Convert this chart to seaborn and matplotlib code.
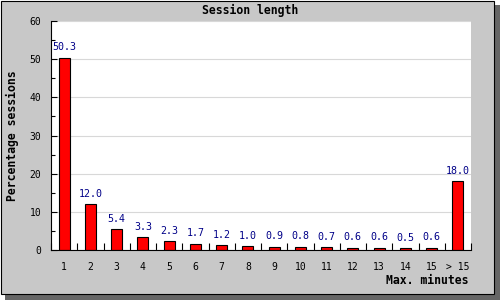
import matplotlib
matplotlib.use("Agg")
import matplotlib.pyplot as plt
from matplotlib.patches import Rectangle
from matplotlib.ticker import MultipleLocator, FixedLocator
import seaborn as sns
import pandas as pd

categories = ["1", "2", "3", "4", "5", "6", "7", "8", "9", "10",
              "11", "12", "13", "14", "15", "> 15"]
values = [50.3, 12.0, 5.4, 3.3, 2.3, 1.7, 1.2, 1.0, 0.9, 0.8,
          0.7, 0.6, 0.6, 0.5, 0.6, 18.0]
title = "Session length"
xlabel = "Max. minutes"
ylabel = "Percentage sessions"

sns.set_theme(style="white")
plt.rcParams["font.family"] = ["DejaVu Sans Mono", "DejaVu Sans"]

df = pd.DataFrame({"cat": categories, "val": values})

W, H = 500, 300
fig = plt.figure(figsize=(5, 3), dpi=100, facecolor="white")

# background panel, border and shadow
fig.patches.append(Rectangle((495 / W, 0), 5 / W, 295 / H, transform=fig.transFigure,
                             facecolor="#666666", edgecolor="none", zorder=-10))
fig.patches.append(Rectangle((5 / W, 0), 495 / W, 6 / H, transform=fig.transFigure,
                             facecolor="#666666", edgecolor="none", zorder=-10))
fig.patches.append(Rectangle((0.5 / W, 6.5 / H), 493.5 / W, 293 / H, transform=fig.transFigure,
                             facecolor="#c8c8c8", edgecolor="black", linewidth=0.8, zorder=-9))

ax = fig.add_axes([51 / W, 1 - 250 / H, 420 / W, 229 / H])
ax.set_facecolor("white")

sns.barplot(data=df, x="cat", y="val", color="red", saturation=1,
            edgecolor="black", linewidth=0.8, width=0.42, ax=ax)

ax.set_xlim(-0.5, len(categories) - 0.5)
ax.set_ylim(0, 60)

for c in ax.containers:
    ax.bar_label(c, fmt="%.1f", padding=4, color="#000088", fontsize=7.2)

ax.yaxis.set_major_locator(MultipleLocator(10))
ax.yaxis.set_minor_locator(MultipleLocator(5))
ax.xaxis.set_minor_locator(FixedLocator([i - 0.5 for i in range(len(categories) + 1)]))

ax.tick_params(axis="y", which="major", direction="in", length=4, width=0.8,
               color="black", labelsize=7, pad=7, left=True, labelcolor="black")
ax.tick_params(axis="y", which="minor", direction="in", length=3, width=0.8,
               color="black", left=True)
ax.tick_params(axis="x", which="major", length=0, labelsize=7, pad=9, labelcolor="black")
ax.tick_params(axis="x", which="minor", direction="in", length=5, width=0.8,
               color="black", bottom=True)

ax.grid(axis="y", which="major", color="#d8d8d8", linewidth=0.8)
ax.set_axisbelow(True)
fig.canvas.draw()
gl = ax.yaxis.get_gridlines()
if len(gl):
    gl[-1].set_visible(False)

for s in ["top", "right"]:
    ax.spines[s].set_visible(False)
for s in ["left", "bottom"]:
    ax.spines[s].set_color("black")
    ax.spines[s].set_linewidth(0.8)

ax.set_xlabel("")
ax.set_ylabel(ylabel, fontsize=8.3, fontweight="bold", color="black")
ax.yaxis.set_label_coords((19 - 51) / 420, 0.5)

fig.text(469 / W, 1 - 281 / H, xlabel, ha="right", va="center",
         fontsize=8.3, fontweight="bold", color="black")
fig.text(250.5 / W, 1 - 10.5 / H, title, ha="center", va="center",
         fontsize=8.3, fontweight="bold", color="black")

fig.savefig("out.png", dpi=100, facecolor=fig.get_facecolor())
